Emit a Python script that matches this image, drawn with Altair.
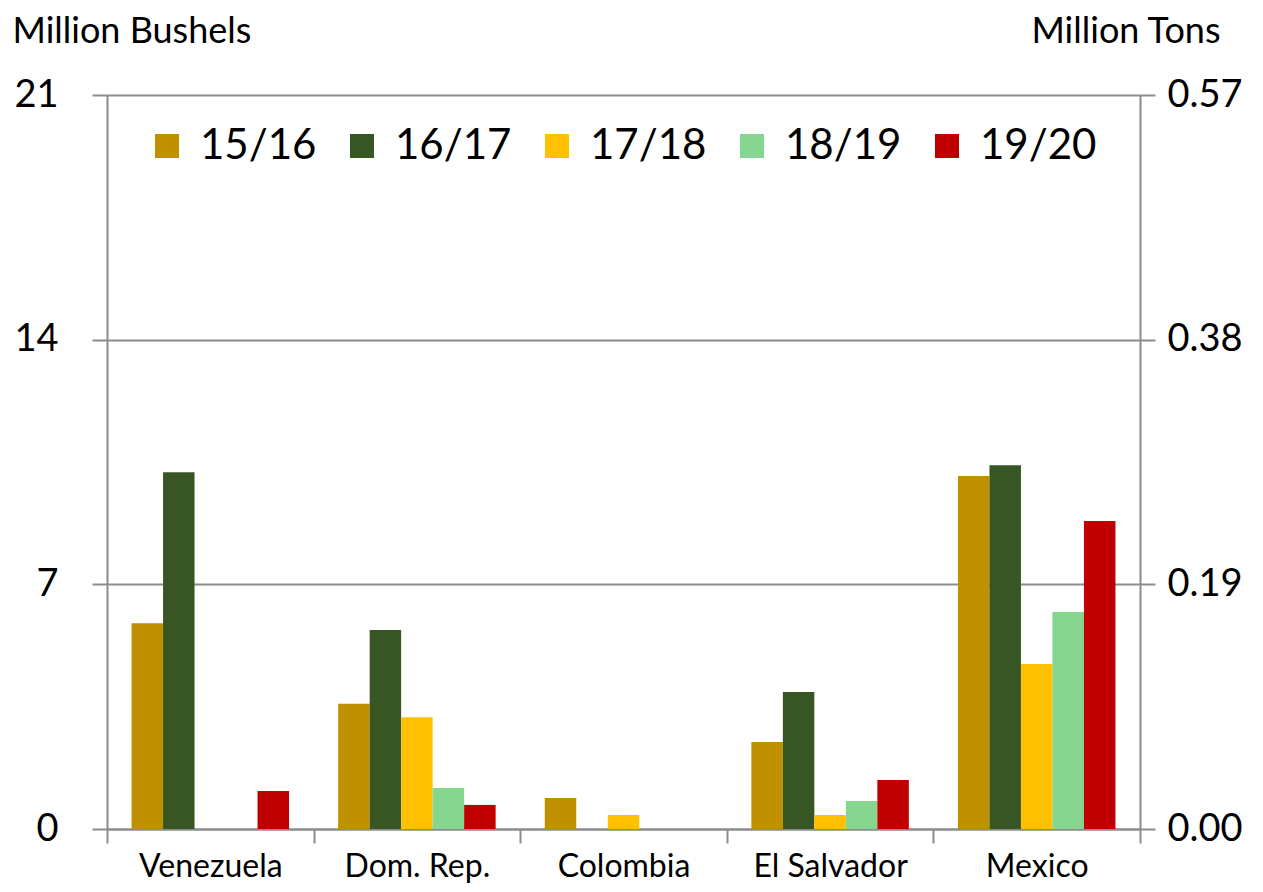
import altair as alt
import pandas as pd

countries = ["Venezuela", "Dom. Rep.", "Colombia", "El Salvador", "Mexico"]
years = ["15/16", "16/17", "17/18", "18/19", "19/20"]
colors = ["#BF9000", "#375623", "#FFC000", "#86D690", "#C00000"]

v_1516 = [5.89, 3.58, 0.89, 2.49, 10.10]
v_1617 = [10.21, 5.69, 0.0, 3.92, 10.41]
v_1718 = [0.0, 3.20, 0.40, 0.40, 4.72]
v_1819 = [0.0, 1.17, 0.0, 0.80, 6.21]
v_1920 = [1.09, 0.69, 0.0, 1.40, 8.81]

left_ticks = [0, 7, 14, 21]
right_ticks = [0.0, 0.19, 0.38, 0.57]

series = [v_1516, v_1617, v_1718, v_1819, v_1920]
rows = []
for yr, vals in zip(years, series):
    for c, v in zip(countries, vals):
        rows.append({"country": c, "year": yr, "value": v})
df = pd.DataFrame(rows)
df_right = pd.DataFrame({"tons": right_ticks})

FONT = "Lato"
GRID = "#8C8C8C"

x_enc = alt.X(
    "country:N",
    sort=countries,
    scale=alt.Scale(paddingInner=0, paddingOuter=0),
    axis=alt.Axis(
        title=None, tickBand="extent", labelAngle=0, labelFontSize=32,
        labelFont=FONT, labelColor="black", labelPadding=8,
        tickSize=14, tickColor=GRID, tickWidth=2, domain=True,
        domainColor=GRID, domainWidth=2, grid=False,
    ),
)

bars = alt.Chart(df).mark_bar().encode(
    x=x_enc,
    xOffset=alt.XOffset("year:N", sort=years,
                        scale=alt.Scale(paddingInner=0, paddingOuter=0.78)),
    y=alt.Y(
        "value:Q",
        scale=alt.Scale(domain=[0, 21], nice=False),
        axis=alt.Axis(
            values=left_ticks, title="Million Bushels", titleAngle=0,
            titleAlign="left", titleBaseline="alphabetic", titleX=-95,
            titleY=-53, titleFontSize=36, titleFont=FONT,
            titleFontWeight="normal", titleColor="black",
            labelFontSize=38, labelFont=FONT, labelColor="black",
            labelPadding=34, tickSize=15, tickColor=GRID, tickWidth=2,
            domainColor=GRID, domainWidth=2, grid=True, gridColor=GRID,
            gridWidth=2,
        ),
    ),
    color=alt.Color(
        "year:N", sort=years,
        scale=alt.Scale(domain=years, range=colors),
        legend=alt.Legend(
            title=None, orient="none", direction="horizontal", columns=5,
            legendX=39, legendY=30, symbolType="square", symbolSize=576,
            symbolStrokeWidth=0, labelFontSize=42, labelFont=FONT,
            labelColor="black", labelOffset=12, columnPadding=24,
        ),
    ),
)

right = alt.Chart(df_right).mark_point(opacity=0).encode(
    y=alt.Y(
        "tons:Q",
        scale=alt.Scale(domain=[0, 0.57], nice=False),
        axis=alt.Axis(
            orient="right", values=right_ticks, format=".2f",
            title="Million Tons", titleAngle=0, titleAlign="right",
            titleBaseline="alphabetic", titleX=80, titleY=-53,
            titleFontSize=36, titleFont=FONT, titleFontWeight="normal",
            titleColor="black", labelFontSize=38, labelFont=FONT,
            labelColor="black", labelPadding=12, tickSize=15,
            tickColor=GRID, tickWidth=2, domainColor=GRID, domainWidth=2,
            grid=False,
        ),
    ),
)

chart = alt.layer(bars, right).resolve_scale(y="independent").properties(
    width=1033,
    height=734,
    autosize=alt.AutoSizeParams(type="none"),
    padding={"left": 99, "top": 87, "right": 107, "bottom": 60},
).configure_view(stroke=None)

chart.save("out.html", embed_options={"renderer": "svg", "actions": False})
